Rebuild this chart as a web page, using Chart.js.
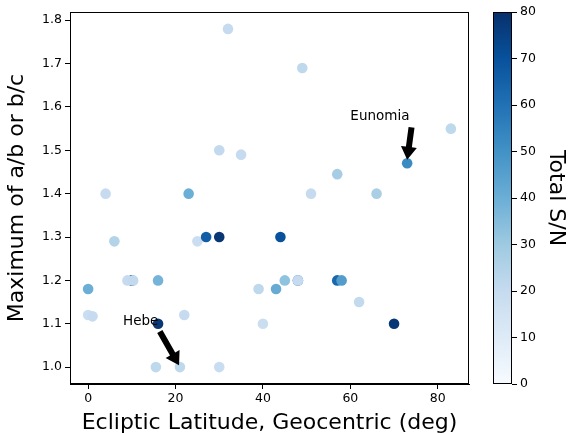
<!DOCTYPE html>
<html>
<head>
<meta charset="utf-8">
<script src="https://cdn.jsdelivr.net/npm/chart.js@4/dist/chart.umd.min.js"></script>
<style>
	body { margin:0; background:#fff; }
	#wrap { position:relative; width:569px; height:433px; }
	#main { position:absolute; left:0; top:0; }
	#cbar { position:absolute; left:480px; top:0; }
</style>
</head>
<body>
<div id="wrap">
	<canvas id="main" width="480" height="433"></canvas>
	<canvas id="cbar" width="89" height="433"></canvas>
</div>
<script>
// ecliptic latitude (deg), max axis ratio, total S/N
var latitude = [32, 4, 23, 30, 35, 49, 83, 57, 51, 66, 6, 25, 27, 30, 44,
	10, 9, 10.3, 16, 0, 39, 43, 45, 48, 48, 57, 58, 62, 0, 1, 22, 40, 16, 70,
	15.5, 21, 30, 73];
var axisRatio = [1.78, 1.40, 1.40, 1.50, 1.49, 1.69, 1.55, 1.445, 1.40, 1.40, 1.29, 1.29, 1.30, 1.30, 1.30,
	1.20, 1.20, 1.20, 1.20, 1.18, 1.18, 1.18, 1.20, 1.20, 1.20, 1.20, 1.20, 1.15, 1.12, 1.117, 1.12, 1.10, 1.10, 1.10,
	1.00, 1.00, 1.00, 1.47];
var totalSN = [20, 20, 40, 21, 20, 22, 22, 28, 20, 27, 25, 18, 66, 78, 70,
	74, 20, 21, 38, 40, 22, 41, 33, 60, 20, 63, 46, 21, 18, 20, 20, 18, 78, 78,
	22, 22, 19, 52];

var xTicks = [0, 20, 40, 60, 80];
var yTicks = [1.0, 1.1, 1.2, 1.3, 1.4, 1.5, 1.6, 1.7, 1.8];
var cbTicks = [0, 10, 20, 30, 40, 50, 60, 70, 80];

var labelNames = ["Eunomia", "Hebe"];
var labelPos = [[60, 1.57], [8, 1.097]];
var arrowFrom = [[74, 1.553], [16.4, 1.082]];
var arrowTo = [[73, 1.478], [20.8, 1.004]];

// matplotlib Blues
var blues = ["#f7fbff", "#deebf7", "#c6dbef", "#9ecae1", "#6baed6", "#4292c6", "#2171b5", "#08519c", "#08306b"];

function hexRgb(h){
	return [parseInt(h.substr(1,2),16), parseInt(h.substr(3,2),16), parseInt(h.substr(5,2),16)];
}
function bluesColor(v){
	var t = Math.max(0, Math.min(1, v/80)) * (blues.length-1);
	var i = Math.min(Math.floor(t), blues.length-2);
	var f = t - i;
	var a = hexRgb(blues[i]), b = hexRgb(blues[i+1]);
	var c = [0,1,2].map(function(k){ return Math.round(a[k] + (b[k]-a[k])*f); });
	return "rgb("+c[0]+","+c[1]+","+c[2]+")";
}

var FONT = "'DejaVu Sans', sans-serif";
Chart.defaults.font.family = FONT;
Chart.defaults.color = "#000";

var points = [];
for (var i=0; i<latitude.length; i++){
	points.push({x: latitude[i], y: axisRatio[i]});
}
var colors = totalSN.map(bluesColor);

var framePlugin = {
	id: "frame",
	afterDraw: function(chart){
		var ctx = chart.ctx, a = chart.chartArea;
		ctx.save();
		ctx.strokeStyle = "#000";
		ctx.lineWidth = 1;
		ctx.strokeRect(a.left+0.5, a.top+0.5, a.right-a.left-1, a.bottom-a.top-1);
		ctx.restore();
	}
};

function drawArrow(ctx, x1, y1, x2, y2){
	var dx = x2-x1, dy = y2-y1;
	var len = Math.sqrt(dx*dx+dy*dy);
	var ux = dx/len, uy = dy/len, nx = -uy, ny = ux;
	var hw = 3, headW = 8, headL = 13;
	var bx = x2 - ux*headL, by = y2 - uy*headL;
	ctx.beginPath();
	ctx.moveTo(x1 + nx*hw, y1 + ny*hw);
	ctx.lineTo(bx + nx*hw, by + ny*hw);
	ctx.lineTo(bx + nx*headW, by + ny*headW);
	ctx.lineTo(x2, y2);
	ctx.lineTo(bx - nx*headW, by - ny*headW);
	ctx.lineTo(bx - nx*hw, by - ny*hw);
	ctx.lineTo(x1 - nx*hw, y1 - ny*hw);
	ctx.closePath();
	ctx.fill();
}

var annotPlugin = {
	id: "annot",
	afterDatasetsDraw: function(chart){
		var ctx = chart.ctx, sx = chart.scales.x, sy = chart.scales.y;
		ctx.save();
		ctx.fillStyle = "#000";
		ctx.font = "13.5px " + FONT;
		ctx.textAlign = "left";
		ctx.textBaseline = "alphabetic";
		for (var i=0; i<labelNames.length; i++){
			ctx.fillText(labelNames[i], sx.getPixelForValue(labelPos[i][0]), sy.getPixelForValue(labelPos[i][1]));
			drawArrow(ctx,
				sx.getPixelForValue(arrowFrom[i][0]), sy.getPixelForValue(arrowFrom[i][1]),
				sx.getPixelForValue(arrowTo[i][0]), sy.getPixelForValue(arrowTo[i][1]));
		}
		ctx.restore();
	}
};

new Chart(document.getElementById("main"), {
	type: "scatter",
	data: {
		datasets: [{
			data: points,
			pointRadius: 5.3,
			pointHoverRadius: 5.3,
			pointBorderWidth: 0,
			pointBackgroundColor: colors,
			pointBorderColor: colors
		}]
	},
	options: {
		responsive: false,
		animation: false,
		layout: { padding: { left: 0, top: 12, right: 11, bottom: 0 } },
		plugins: { legend: { display: false }, tooltip: { enabled: false } },
		scales: {
			x: {
				type: "linear",
				min: -4.15, max: 87.15,
				afterBuildTicks: function(s){ s.ticks = xTicks.map(function(v){ return {value: v}; }); },
				afterFit: function(s){ s.height = 49; },
				ticks: { font: { size: 12.5 }, padding: 2, color: "#000", maxRotation: 0 },
				grid: { drawOnChartArea: false, tickLength: 5, tickColor: "#000" },
				border: { color: "#000" },
				title: { display: true, text: "Ecliptic Latitude, Geocentric (deg)", font: { size: 22 }, color: "#000", padding: { top: 0, bottom: -3 } }
			},
			y: {
				type: "linear",
				min: 0.961, max: 1.819,
				afterBuildTicks: function(s){ s.ticks = yTicks.map(function(v){ return {value: v}; }); },
				afterFit: function(s){ s.width = 70; },
				ticks: { font: { size: 12.5 }, padding: 3, color: "#000", callback: function(v){ return v.toFixed(1); } },
				grid: { drawOnChartArea: false, tickLength: 5, tickColor: "#000" },
				border: { color: "#000" },
				title: { display: true, text: "Maximum of a/b or b/c", font: { size: 22 }, color: "#000", padding: { top: 4, bottom: 4 } }
			}
		}
	},
	plugins: [framePlugin, annotPlugin]
});

var gradientPlugin = {
	id: "gradient",
	beforeDatasetsDraw: function(chart){
		var ctx = chart.ctx, a = chart.chartArea;
		var g = ctx.createLinearGradient(0, a.bottom, 0, a.top);
		for (var i=0; i<blues.length; i++) g.addColorStop(i/(blues.length-1), blues[i]);
		ctx.save();
		ctx.fillStyle = g;
		ctx.fillRect(a.left, a.top, a.right-a.left, a.bottom-a.top);
		ctx.strokeStyle = "#000";
		ctx.lineWidth = 1;
		ctx.strokeRect(a.left+0.5, a.top+0.5, a.right-a.left-1, a.bottom-a.top-1);
		ctx.restore();
	}
};

new Chart(document.getElementById("cbar"), {
	type: "scatter",
	data: { datasets: [] },
	options: {
		responsive: false,
		animation: false,
		layout: { padding: { left: 13, top: 12, right: 0, bottom: 49 } },
		plugins: { legend: { display: false }, tooltip: { enabled: false } },
		scales: {
			x: { display: false, min: 0, max: 1 },
			y: {
				type: "linear",
				position: "right",
				min: 0, max: 80,
				afterBuildTicks: function(s){ s.ticks = cbTicks.map(function(v){ return {value: v}; }); },
				afterFit: function(s){ s.width = 57; },
				ticks: { font: { size: 12.5 }, padding: 3, color: "#000" },
				grid: { drawOnChartArea: false, tickLength: 5, tickColor: "#000" },
				border: { display: false },
				title: { display: true, text: "Total S/N", font: { size: 22 }, color: "#000", padding: { top: 0, bottom: 0 } }
			}
		}
	},
	plugins: [gradientPlugin]
});
</script>
</body>
</html>
